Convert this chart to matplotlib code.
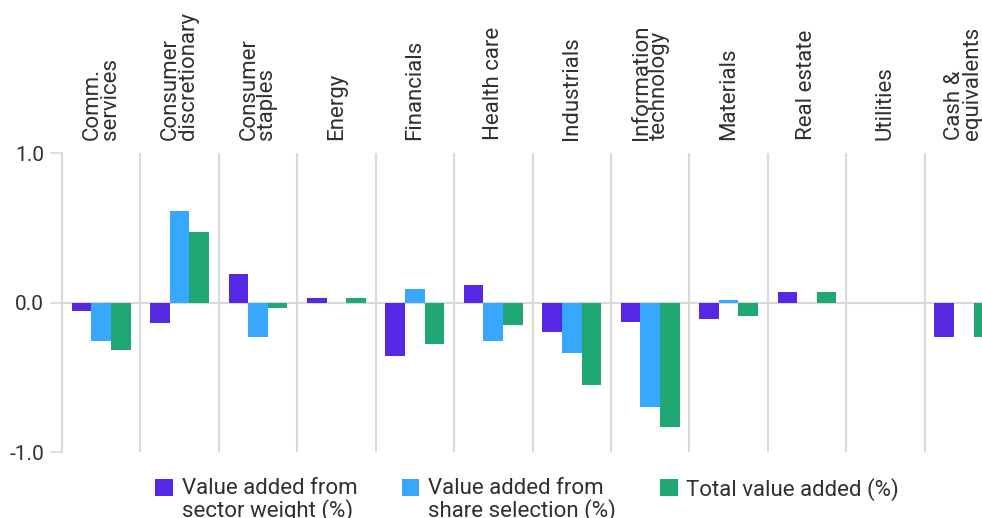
import numpy as np
import matplotlib
matplotlib.use("Agg")
import matplotlib.pyplot as plt
from matplotlib.patches import Patch, Rectangle
from matplotlib.legend_handler import HandlerPatch

plt.rcParams['font.family'] = ['Roboto', 'DejaVu Sans']

categories = ["Comm.\nservices", "Consumer\ndiscretionary", "Consumer\nstaples", "Energy",
              "Financials", "Health care", "Industrials", "Information\ntechnology",
              "Materials", "Real estate", "Utilities", "Cash &\nequivalents"]
sector_weight = [-0.06, -0.14, 0.19, 0.03, -0.36, 0.12, -0.20, -0.13, -0.11, 0.07, 0.0, -0.23]
share_selection = [-0.26, 0.61, -0.23, 0.0, 0.09, -0.26, -0.34, -0.70, 0.015, 0.0, 0.0, 0.0]
total_added = [-0.32, 0.47, -0.04, 0.03, -0.28, -0.15, -0.55, -0.83, -0.09, 0.07, 0.0, -0.23]
series_names = ["Value added from\nsector weight (%)", "Value added from\nshare selection (%)",
                "Total value added (%)\n"]
colors = ["#5628e4", "#38a8ff", "#1fa774"]
yticks = [-1.0, 0.0, 1.0]

txt_c = "#303030"
grid_c = "#d9d9d9"

fig = plt.figure(figsize=(9.82, 5.18), dpi=100)
ax = fig.add_axes([62 / 982, 66 / 518, 941 / 982, 299 / 518])

x = np.arange(len(categories))
w = 0.25
for i, vals in enumerate([sector_weight, share_selection, total_added]):
    ax.bar(x + (i - 1) * w, vals, width=w, color=colors[i], zorder=3)

# separators between sectors
for b in np.arange(len(categories) - 1) + 0.5:
    ax.axvline(b, color=grid_c, lw=1.5, zorder=1)
ax.axhline(0, color=grid_c, lw=1.5, zorder=2)

ax.set_xlim(-0.5, len(categories) - 0.5)
ax.set_ylim(-1, 1)
ax.set_xticks([])
ax.set_yticks(yticks)
ax.set_yticklabels([f"{v:.1f}" for v in yticks], fontsize=15, color=txt_c)
ax.tick_params(axis="y", length=8.5, width=1.2, color=grid_c, pad=4.5)
for s in ["top", "right", "bottom"]:
    ax.spines[s].set_visible(False)
ax.spines["left"].set_color(grid_c)
ax.spines["left"].set_linewidth(1.5)

for xi, lab in zip(x, categories):
    ax.text(xi, 1.0 + 13 / 149.5, lab, rotation=90, ha="center", va="bottom",
            multialignment="left", linespacing=0.8, fontsize=16, color=txt_c,
            transform=ax.transData, clip_on=False)


def square_top(legend, orig_handle, xdescent, ydescent, width, height, fontsize):
    # square sits next to the first text line
    return Rectangle((-xdescent, 0.52 * fontsize), width, width)


handles = [Patch(facecolor=c, edgecolor="none") for c in colors]
leg = ax.legend(handles, series_names, loc="upper center", bbox_to_anchor=(0.4945, -0.02),
                ncol=3, frameon=False, fontsize=16, handlelength=0.78, handleheight=0.8,
                handletextpad=0.4, columnspacing=2.0,
                handler_map={Patch: HandlerPatch(patch_func=square_top)})
for t in leg.get_texts():
    t.set_linespacing(1.0)
    t.set_color(txt_c)

fig.savefig("out.png", dpi=100)
